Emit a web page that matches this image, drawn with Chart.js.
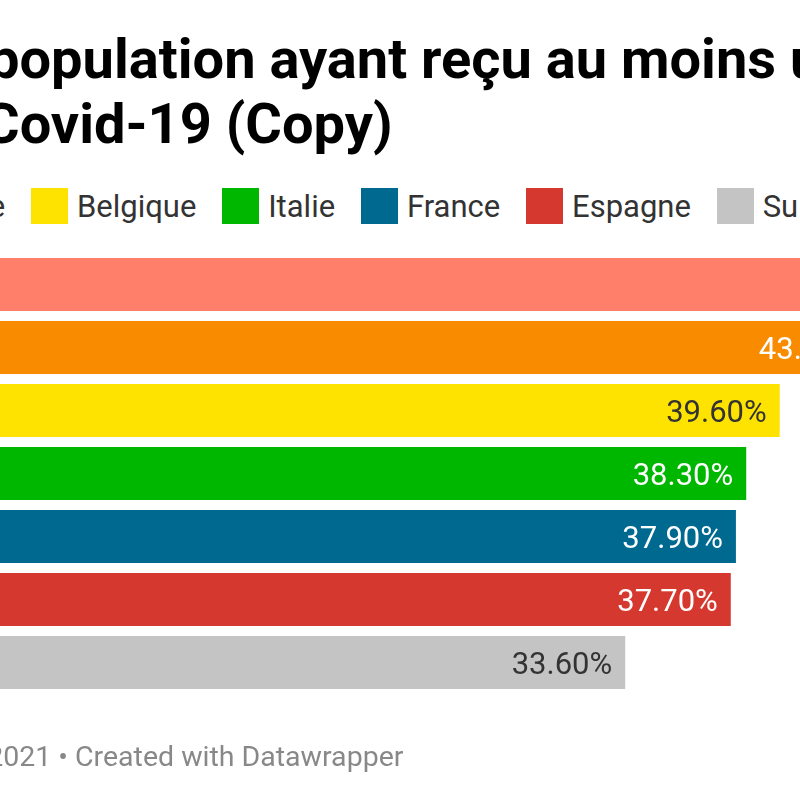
<!DOCTYPE html>
<html lang="fr">
<head>
<meta charset="utf-8">
<title>Part de la population ayant reçu au moins une dose de vaccin</title>
<script src="https://cdn.jsdelivr.net/npm/chart.js@4.4.0/dist/chart.umd.min.js"></script>
<style>
    html, body { margin: 0; padding: 0; background: #fff; }
    body { width: 800px; height: 800px; overflow: hidden; position: relative; font-family: Roboto, "Noto Sans", sans-serif; }
    .line { position: absolute; white-space: nowrap; }
    .line .pre { position: absolute; right: 100%; top: 0; }
    .title { font-weight: 700; font-size: 56px; line-height: 56px; color: #000; }
    .footer { font-size: 28.5px; line-height: 29px; color: #888; }
    #legend { position: absolute; left: 0; top: 188px; display: flex; align-items: center; white-space: nowrap; font-size: 31px; line-height: 31px; color: #333; }
    #legend .item { display: flex; align-items: center; margin-right: 25.8px; }
    #legend .swatch { width: 37px; height: 36px; margin-right: 9px; flex: none; }
    #chartBox { position: absolute; left: -240px; top: 0; width: 1545px; height: 800px; }
</style>
</head>
<body>
<div class="line title" style="left:-12px; top:31px"><span class="pre">Part de la&nbsp;</span>population ayant reçu au moins une dose de vaccin</div>
<div class="line title" style="left:-17px; top:96px"><span class="pre">contre le&nbsp;</span>Covid-19 (Copy)</div>
<div id="legend"></div>
<div id="chartBox"><canvas id="barChart"></canvas></div>
<div class="line footer" style="left:75px; top:742px"><span class="pre">Source : Our World in Data, 24 mai 2021 •&nbsp;</span>Created with Datawrapper</div>

<script>
// Données : part de la population (%) ayant reçu au moins une dose
const countries = ['Royaume-Uni', 'Allemagne', 'Belgique', 'Italie', 'France', 'Espagne', 'Suisse'];
const shares = [57.0, 43.2, 39.6, 38.3, 37.9, 37.7, 33.6];
const barColors = ['#ff7f6a', '#f98b00', '#ffe300', '#00b700', '#00698f', '#d5382e', '#c4c4c4'];
const axisMax = 60;

document.addEventListener('DOMContentLoaded', function() {
    // Légende HTML construite à partir des pays
    const legend = document.getElementById('legend');
    countries.forEach(function(name, i) {
        const item = document.createElement('div');
        item.className = 'item';
        const sw = document.createElement('span');
        sw.className = 'swatch';
        sw.style.background = barColors[i];
        const txt = document.createElement('span');
        txt.textContent = name;
        item.appendChild(sw);
        item.appendChild(txt);
        legend.appendChild(item);
    });
    // la légende est coupée à gauche : on cale la case "Belgique"
    const anchor = legend.children[2].querySelector('.swatch');
    legend.style.left = (31 - anchor.getBoundingClientRect().left) + 'px';

    function isLight(hex) {
        const r = parseInt(hex.substr(1, 2), 16);
        const g = parseInt(hex.substr(3, 2), 16);
        const b = parseInt(hex.substr(5, 2), 16);
        return 0.299 * r + 0.587 * g + 0.114 * b > 180;
    }

    // Étiquettes de valeur dans les barres
    const valueLabels = {
        id: 'valueLabels',
        afterDatasetsDraw(chart) {
            const ctx = chart.ctx;
            const meta = chart.getDatasetMeta(0);
            ctx.save();
            ctx.font = '31px Roboto';
            ctx.textAlign = 'right';
            ctx.textBaseline = 'alphabetic';
            meta.data.forEach(function(bar, i) {
                ctx.fillStyle = isLight(barColors[i]) ? '#333' : '#fff';
                ctx.fillText(shares[i].toFixed(2) + '%', bar.x - 13, bar.y + 11);
            });
            ctx.restore();
        }
    };

    const ctx = document.getElementById('barChart').getContext('2d');
    new Chart(ctx, {
        type: 'bar',
        data: {
            labels: countries,
            datasets: [{
                data: shares,
                backgroundColor: barColors,
                borderWidth: 0,
                barPercentage: 53 / 63,
                categoryPercentage: 1
            }]
        },
        options: {
            indexAxis: 'y',
            responsive: true,
            maintainAspectRatio: false,
            animation: false,
            layout: { padding: { top: 253, bottom: 106, left: 0, right: 0 } },
            plugins: {
                legend: { display: false },
                tooltip: { enabled: false }
            },
            scales: {
                x: { min: 0, max: axisMax, display: false },
                y: { display: false }
            }
        },
        plugins: [valueLabels]
    });
});
</script>
</body>
</html>
